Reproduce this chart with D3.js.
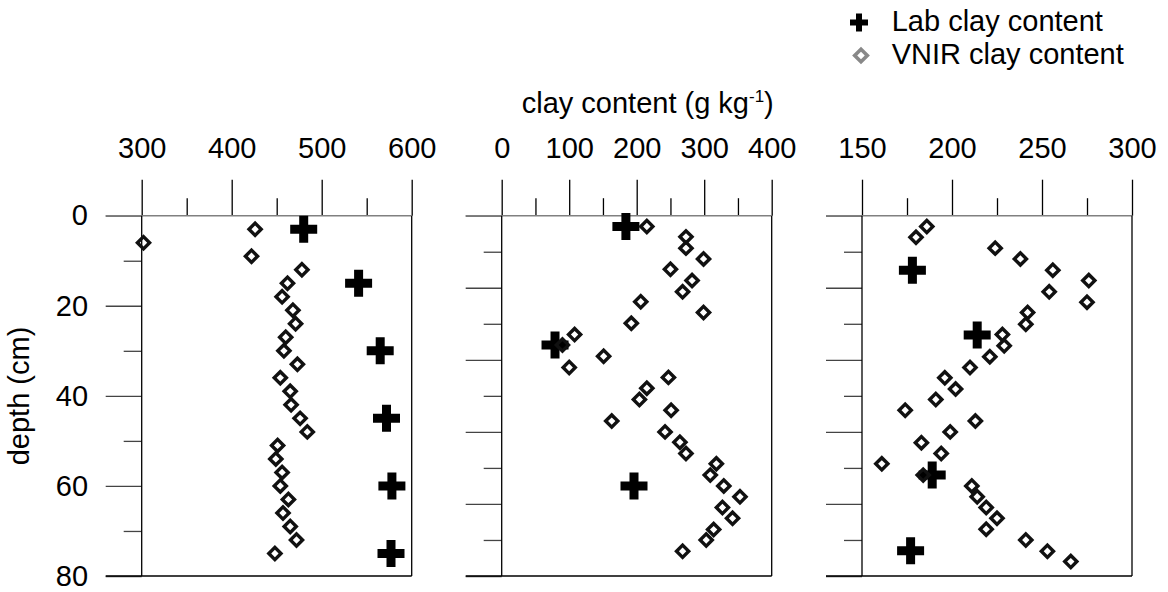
<!DOCTYPE html>
<html><head><meta charset="utf-8">
<script src="https://cdn.jsdelivr.net/npm/d3@7"></script>
<style>
body{margin:0;background:#fff;}
svg{display:block;font-family:"Liberation Sans",Arial,sans-serif;}
</style></head>
<body><svg id="c" width="1168" height="592"></svg>
<script>
// ---- data (depth in cm, clay content in g/kg) ----
const p1LabDepth = [3, 15, 30, 45, 60, 75];
const p1LabClay  = [480, 541, 565, 572, 578, 577];
const p1VnirDepth = [3,6,9,12,15,18,21,24,27,30,33,36,39,42,45,48,51,54,57,60,63,66,69,72,75];
const p1VnirClay  = [426,302,422,478,462,456,468,471,460,458,473,454,465,466,476,484,451,449,456,454,463,457,465,472,448];

const p2LabDepth = [2.4, 28.7, 60];
const p2LabClay  = [184, 79, 196];
const p2VnirDepth = [2.4,4.7,7.2,9.6,11.9,14.4,16.9,19.1,21.5,23.9,26.4,28.7,31.2,33.7,35.9,38.3,40.8,43.2,45.6,48,50.3,52.8,55.1,57.6,60,62.4,64.8,67.2,69.7,72,74.5];
const p2VnirClay  = [215,273,273,299,250,282,268,206,299,192,108,90,151,100,247,215,204,251,163,242,264,273,318,309,329,353,327,342,314,303,268];

const p3LabDepth = [12.1, 26.5, 57.6, 74.4];
const p3LabClay  = [178, 214, 189, 177];
const p3VnirDepth = [2.4,4.8,7.2,9.6,12.1,14.4,16.9,19.2,21.5,24.1,26.4,28.9,31.3,33.7,36,38.5,40.8,43.2,45.6,48,50.4,52.8,55.1,57.6,60,62.4,64.8,67.2,69.6,72,74.5,76.8];
const p3VnirClay  = [186,180,224,238,256,276,254,275,242,241,228,229,221,210,196,202,191,174,213,199,183,194,161,184,211,214,219,225,219,241,253,266];

const p1Ticks = [300, 400, 500, 600];
const p2Ticks = [0, 100, 200, 300, 400];
const p3Ticks = [150, 200, 250, 300];
const depthTicks = [0, 20, 40, 60, 80];

const titleText = "clay content (g kg";
const titleSup = "-1";
const yLabel = "depth (cm)";
const legendLab = "Lab clay content";
const legendVnir = "VNIR clay content";

// ---- layout ----
const FONT = '"Liberation Sans", Arial, sans-serif';
const svg = d3.select("#c");
const FS = 29;
const top0 = 215.7, bot0 = 576;
const y = d3.scaleLinear().domain([0, 80]).range([top0, bot0]);

const panels = [
  {dom:[300,600], range:[141.7,411.7], ticks:p1Ticks, minor:[350,450,550],
   lab:[p1LabDepth,p1LabClay], vnir:[p1VnirDepth,p1VnirClay], yMajor:depthTicks, yMinor:[10,30,50,70], labels:true},
  {dom:[0,400], range:[501.7,771.7], ticks:p2Ticks, minor:[50,150,250,350],
   lab:[p2LabDepth,p2LabClay], vnir:[p2VnirDepth,p2VnirClay], yMajor:[0,16,32,48,64,80], yMinor:[8,24,40,56,72], labels:false},
  {dom:[150,300], range:[862,1132], ticks:p3Ticks, minor:[175,225,275],
   lab:[p3LabDepth,p3LabClay], vnir:[p3VnirDepth,p3VnirClay], yMajor:[0,16,32,48,64,80], yMinor:[8,24,40,56,72], labels:false}
];

const crossSym = d3.symbol().type(d3.symbolCross).size(405)();
const diamondSym = d3.symbol().type(d3.symbolSquare).size(74)();

function styleAxis(a, col) {
  a.attr("font-family", FONT).attr("font-size", FS);
  a.select(".domain").remove();
  a.selectAll("line").attr("stroke", col).attr("stroke-width", 1.3);
  a.selectAll("text").attr("fill", "#000");
}

panels.forEach(p => {
  const x = d3.scaleLinear().domain(p.dom).range(p.range);
  const g = svg.append("g");
  const L = p.range[0], R = p.range[1];

  styleAxis(g.append("g").attr("transform", `translate(0,${top0})`)
    .call(d3.axisTop(x).tickValues(p.ticks).tickSize(36).tickPadding(21.7).tickFormat(d3.format("d"))), "#000");
  styleAxis(g.append("g").attr("transform", `translate(0,${top0})`)
    .call(d3.axisTop(x).tickValues(p.minor).tickSize(17.5).tickFormat("")), "#000");
  styleAxis(g.append("g").attr("transform", `translate(${L},0)`)
    .call(d3.axisLeft(y).tickValues(p.yMajor).tickSize(36).tickPadding(17.7)
      .tickFormat(p.labels ? d3.format("d") : "")), "#444");
  styleAxis(g.append("g").attr("transform", `translate(${L},0)`)
    .call(d3.axisLeft(y).tickValues(p.yMinor).tickSize(18).tickFormat("")), "#444");

  // frame
  g.append("line").attr("x1", L - 36).attr("x2", R).attr("y1", y(0)).attr("y2", y(0))
    .attr("stroke", "#808080").attr("stroke-width", 1.5);
  g.append("line").attr("x1", L - 36).attr("x2", R).attr("y1", y(80)).attr("y2", y(80))
    .attr("stroke", "#000").attr("stroke-width", 1.3);
  g.append("line").attr("x1", L).attr("x2", L).attr("y1", y(0)).attr("y2", y(80))
    .attr("stroke", "#000").attr("stroke-width", 1.3);
  g.append("line").attr("x1", R).attr("x2", R).attr("y1", y(0)).attr("y2", y(80))
    .attr("stroke", "#000").attr("stroke-width", 1.3);

  g.selectAll("path.lab").data(d3.range(p.lab[0].length)).join("path")
    .attr("class", "lab").attr("d", crossSym).attr("fill", "#000")
    .attr("transform", i => `translate(${x(p.lab[1][i])},${y(p.lab[0][i])})`);
  g.selectAll("path.vnir").data(d3.range(p.vnir[0].length)).join("path")
    .attr("class", "vnir").attr("d", diamondSym).attr("fill", "none")
    .attr("stroke", "#111").attr("stroke-width", 3.4)
    .attr("transform", i => `translate(${x(p.vnir[1][i])},${y(p.vnir[0][i])}) rotate(45)`);
});

// title
const t = svg.append("text").attr("x", 521.7).attr("y", 113).attr("font-size", FS).attr("fill", "#000");
t.append("tspan").text(titleText);
t.append("tspan").attr("font-size", 17).attr("dy", -11).text(titleSup);
t.append("tspan").attr("dy", 11).text(")");

// y label
svg.append("text").attr("transform", "translate(29,396) rotate(-90)")
  .attr("text-anchor", "middle").attr("font-size", FS).attr("fill", "#000").text(yLabel);

// legend
svg.append("path").attr("d", d3.symbol().type(d3.symbolCross).size(180)())
  .attr("transform", "translate(859,22.5)").attr("fill", "#000");
svg.append("text").attr("x", 891.7).attr("y", 30.7).attr("font-size", FS).attr("fill", "#000").text(legendLab);
svg.append("path").attr("d", d3.symbol().type(d3.symbolSquare).size(80)())
  .attr("transform", "translate(861,55.5) rotate(45)").attr("fill", "none")
  .attr("stroke", "#888").attr("stroke-width", 3.6);
svg.append("text").attr("x", 891.7).attr("y", 64).attr("font-size", FS).attr("fill", "#000").text(legendVnir);
</script></body></html>
